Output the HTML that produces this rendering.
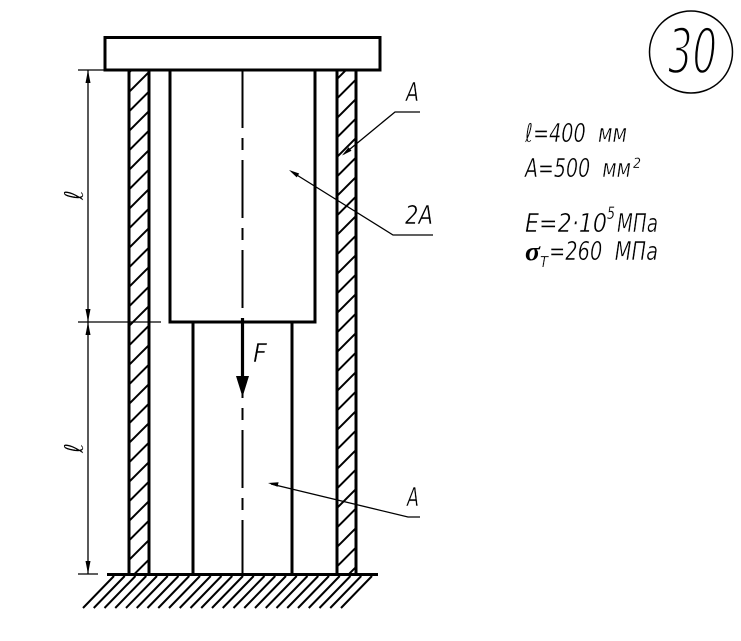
<!DOCTYPE html>
<html>
<head>
<meta charset="utf-8">
<style>
  html,body{margin:0;padding:0;background:#fff;}
  svg{display:block;}
  .t{font-family:"DejaVu Sans","Liberation Sans",sans-serif;font-weight:200;font-style:italic;fill:#000;stroke:#fff;stroke-width:0.5px;}
  .s{stroke-width:0.25px;}
</style>
</head>
<body>
<svg width="741" height="641" viewBox="0 0 741 641" xmlns="http://www.w3.org/2000/svg">
  <defs>
    <pattern id="wh" patternUnits="userSpaceOnUse" x="6.5" y="0" width="19.5" height="19.5">
      <line x1="0" y1="19.5" x2="19.5" y2="0" stroke="#000" stroke-width="2"/>
      <line x1="-2" y1="2" x2="2" y2="-2" stroke="#000" stroke-width="2"/>
      <line x1="17.5" y1="21.5" x2="21.5" y2="17.5" stroke="#000" stroke-width="2"/>
    </pattern>
  </defs>
  <rect width="741" height="641" fill="#fff"/>

  <!-- wall hatching -->
  <rect x="129" y="70" width="20" height="504" fill="url(#wh)"/>
  <rect x="337" y="70" width="19" height="504" fill="url(#wh)"/>

  <!-- top plate -->
  <rect x="105" y="37.5" width="275" height="32.5" fill="none" stroke="#000" stroke-width="3"/>

  <!-- walls -->
  <g stroke="#000" stroke-width="3" fill="none">
    <line x1="129" y1="70" x2="129" y2="575"/>
    <line x1="149" y1="70" x2="149" y2="575"/>
    <line x1="337" y1="70" x2="337" y2="575"/>
    <line x1="356" y1="70" x2="356" y2="575"/>
    <polyline points="170,70 170,322 315,322 315,70"/>
    <line x1="193" y1="322" x2="193" y2="575"/>
    <line x1="292" y1="322" x2="292" y2="575"/>
    <line x1="107" y1="574.5" x2="378" y2="574.5"/>
  </g>

  <!-- ground hatching -->
  <path stroke="#000" stroke-width="2" fill="none" d="M83 608l31 -32M93.75 608l31 -32M104.5 608l31 -32M115.25 608l31 -32M126 608l31 -32M136.75 608l31 -32M147.5 608l31 -32M158.25 608l31 -32M169 608l31 -32M179.75 608l31 -32M190.5 608l31 -32M201.25 608l31 -32M212 608l31 -32M222.75 608l31 -32M233.5 608l31 -32M244.25 608l31 -32M255 608l31 -32M265.75 608l31 -32M276.5 608l31 -32M287.25 608l31 -32M298 608l31 -32M308.75 608l31 -32M319.5 608l31 -32M330.25 608l31 -32M341 608l31 -32"/>

  <!-- center line -->
  <line x1="242.5" y1="70" x2="242.5" y2="575" stroke="#000" stroke-width="2" stroke-dasharray="58 10 12 10"/>

  <!-- force arrow F -->
  <line x1="242.5" y1="318" x2="242.5" y2="380" stroke="#000" stroke-width="3.2"/>
  <polygon points="236,376 249,376 242.5,397" fill="#000"/>
  <text class="t" x="253" y="362" font-size="26" textLength="14" lengthAdjust="spacingAndGlyphs">F</text>

  <!-- dimensions -->
  <g stroke="#000" stroke-width="1.3" fill="none">
    <line x1="78" y1="70" x2="105" y2="70"/>
    <line x1="78" y1="322" x2="161" y2="322"/>
    <line x1="78" y1="574" x2="98" y2="574"/>
    <line x1="88" y1="70" x2="88" y2="574"/>
  </g>
  <g fill="#000">
    <polygon points="88,70 85.5,83 90.5,83"/>
    <polygon points="88,322 85.5,309 90.5,309"/>
    <polygon points="88,322 85.5,335 90.5,335"/>
    <polygon points="88,574 85.5,561 90.5,561"/>
  </g>
  <text class="t" font-size="26" text-anchor="middle" transform="translate(83,195) rotate(-90)">ℓ</text>
  <text class="t" font-size="26" text-anchor="middle" transform="translate(83,448) rotate(-90)">ℓ</text>

  <!-- leaders -->
  <g stroke="#000" stroke-width="1.3" fill="none">
    <polyline points="420,112 395,112 344,154"/>
    <polyline points="433,235 393,235 292,172"/>
    <polyline points="420,517 408,517 271,484"/>
  </g>
  <g fill="#000">
    <polygon points="342,155.5 348.5,147.2 351.5,150.8"/>
    <polygon points="289,170 299.2,173.5 296.7,177.4"/>
    <polygon points="268,483 278.6,482.2 277.5,486.8"/>
  </g>
  <text class="t" x="406" y="101" font-size="26" textLength="13" lengthAdjust="spacingAndGlyphs">A</text>
  <text class="t" x="405" y="224" font-size="26" textLength="28" lengthAdjust="spacingAndGlyphs">2A</text>
  <text class="t" x="407" y="506" font-size="26" textLength="12" lengthAdjust="spacingAndGlyphs">A</text>

  <!-- circle with number -->
  <ellipse cx="691" cy="52" rx="41.5" ry="41" fill="none" stroke="#000" stroke-width="1.5"/>
  <text class="t" x="668" y="73" font-size="62" textLength="49" lengthAdjust="spacingAndGlyphs" style="stroke-width:2.4px">30</text>

  <!-- data -->
  <text class="t" x="525" y="142" font-size="26" textLength="102" lengthAdjust="spacingAndGlyphs" xml:space="preserve">ℓ=400  мм</text>
  <text class="t" x="525" y="177" font-size="26" textLength="106" lengthAdjust="spacingAndGlyphs" xml:space="preserve">A=500  мм</text>
  <text class="t s" x="633" y="168" font-size="14" textLength="8" lengthAdjust="spacingAndGlyphs">2</text>

  <text class="t" x="525" y="232" font-size="26" textLength="82" lengthAdjust="spacingAndGlyphs">E=2·10</text>
  <text class="t s" x="607" y="219" font-size="17" textLength="8" lengthAdjust="spacingAndGlyphs">5</text>
  <text class="t" x="617" y="232" font-size="26" textLength="41" lengthAdjust="spacingAndGlyphs">МПа</text>

  <text x="525" y="260" font-family="'Liberation Serif','DejaVu Serif',serif" font-weight="bold" font-style="italic" font-size="26" textLength="15" lengthAdjust="spacingAndGlyphs">σ</text>
  <text class="t s" x="540" y="267" font-size="15" textLength="8" lengthAdjust="spacingAndGlyphs">T</text>
  <text class="t" x="549" y="260" font-size="26" textLength="109" lengthAdjust="spacingAndGlyphs" xml:space="preserve">=260  МПа</text>
</svg>
</body>
</html>
